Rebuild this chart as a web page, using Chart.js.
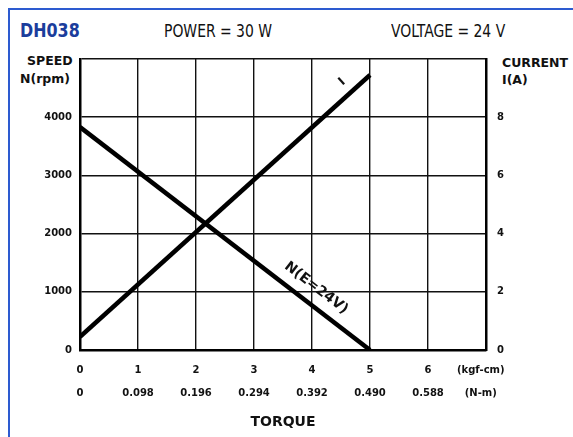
<!DOCTYPE html>
<html>
<head>
<meta charset="utf-8">
<script src="https://cdn.jsdelivr.net/npm/chart.js@4"></script>
<style>
  body { margin:0; background:#fff; width:573px; height:437px; overflow:hidden; position:relative; font-family:"DejaVu Sans", sans-serif; }
  .frame { position:absolute; left:8px; top:8px; width:600px; height:460px; border-left:2px solid #2d5bd0; border-top:2px solid #2d5bd0; }
  .txt { position:absolute; white-space:nowrap; color:#111; }
  .head { font-family:"Liberation Sans Narrow","DejaVu Sans Condensed",sans-serif; font-size:18px; transform:scaleX(0.86); transform-origin:left top; }
  .axt { font-weight:bold; font-size:12.5px; line-height:18px; }
  #chartBox { position:absolute; left:0; top:0; width:573px; height:437px; }
</style>
</head>
<body>
<div class="frame"></div>
<div class="txt head" style="left:20px;top:19px;color:#1b3d9c;font-weight:bold;font-size:19px;transform:scaleX(0.93);">DH038</div>
<div class="txt head" style="left:164px;top:20px;">POWER = 30 W</div>
<div class="txt head" style="left:391px;top:20px;">VOLTAGE = 24 V</div>
<div class="txt axt" style="left:27px;top:52px;">SPEED</div>
<div class="txt axt" style="left:20px;top:70px;">N(rpm)</div>
<div class="txt axt" style="left:502px;top:54px;">CURRENT</div>
<div class="txt axt" style="left:502px;top:71px;">I(A)</div>
<div id="chartBox"><canvas id="motorChart" width="573" height="437"></canvas></div>
<script>
// torque points (kgf-cm) and readings at those loads
const torque = [0, 5];
const speed = [3830, 0];
const current = [0.45, 9.45];

const torqueTicks = [0, 1, 2, 3, 4, 5, 6];
const torqueNm = ['0', '0.098', '0.196', '0.294', '0.392', '0.490', '0.588'];
const speedTicks = [0, 1000, 2000, 3000, 4000];
const currentTicks = [0, 2, 4, 6, 8];

const tickFont = { family: 'DejaVu Sans', weight: 'bold', size: 10 };

// writes a label along a curve, angled like the line under it
const lineLabels = {
  id: 'lineLabels',
  afterDatasetsDraw(chart) {
    const ctx = chart.ctx;
    const x = chart.scales.x;
    function put(text, axis, pos, vals, dx, dy, size) {
      const sc = chart.scales[axis];
      const x0 = x.getPixelForValue(torque[0]), y0 = sc.getPixelForValue(vals[0]);
      const x1 = x.getPixelForValue(torque[1]), y1 = sc.getPixelForValue(vals[1]);
      const ang = Math.atan2(y1 - y0, x1 - x0);
      const px = x0 + (x1 - x0) * pos + dx, py = y0 + (y1 - y0) * pos + dy;
      ctx.save();
      ctx.translate(px, py);
      ctx.rotate(ang);
      ctx.font = 'bold ' + size + 'px "DejaVu Sans"';
      ctx.fillStyle = '#111';
      ctx.textAlign = 'center';
      ctx.textBaseline = 'middle';
      ctx.fillText(text, 0, 0);
      ctx.restore();
    }
    put('I', 'y1', 0.935, current, -9, -10, 12);
    put('N(E=24V)', 'y', 0.78, speed, 10, -13, 14);
  }
};

new Chart(document.getElementById('motorChart'), {
  type: 'scatter',
  data: {
    datasets: [
      {
        label: 'N',
        data: torque.map((t, i) => ({ x: t, y: speed[i] })),
        yAxisID: 'y',
        showLine: true,
        borderColor: '#000',
        borderWidth: 4.5,
        pointRadius: 0
      },
      {
        label: 'I',
        data: torque.map((t, i) => ({ x: t, y: current[i] })),
        yAxisID: 'y1',
        showLine: true,
        borderColor: '#000',
        borderWidth: 4.5,
        pointRadius: 0
      }
    ]
  },
  options: {
    responsive: false,
    animation: false,
    layout: { padding: { top: 59, left: 0, right: 0, bottom: 0 } },
    plugins: { legend: { display: false }, tooltip: { enabled: false } },
    scales: {
      x: {
        type: 'linear', min: 0, max: 7,
        afterFit(s) { s.height = 87; },
        afterBuildTicks(s) { s.ticks = torqueTicks.concat([7]).map(v => ({ value: v })); },
        grid: { color: '#111', lineWidth: 1.4, drawTicks: false },
        border: { color: '#000', width: 2.5 },
        ticks: {
          padding: 9, color: '#111', font: { ...tickFont, lineHeight: 2.3 }, maxRotation: 0, autoSkip: false,
          callback(v) {
            if (v === 7) return ['(kgf-cm)   ', '(N-m)   '];
            return [String(v), torqueNm[torqueTicks.indexOf(v)]];
          }
        },
        title: { display: true, text: 'TORQUE', color: '#111', font: { family: 'DejaVu Sans', weight: 'bold', size: 14 }, padding: { top: 0, bottom: 6 } }
      },
      y: {
        position: 'left', min: 0, max: 5000,
        afterFit(s) { s.width = 80; },
        afterBuildTicks(s) { s.ticks = speedTicks.concat([5000]).map(v => ({ value: v })); },
        grid: { color: '#111', lineWidth: 1.4, drawTicks: false },
        border: { color: '#000', width: 2.5 },
        ticks: { padding: 8, color: '#111', font: tickFont, autoSkip: false, callback: v => v === 5000 ? '' : String(v) }
      },
      y1: {
        position: 'right', min: 0, max: 10,
        afterFit(s) { s.width = 87; },
        afterBuildTicks(s) { s.ticks = currentTicks.concat([10]).map(v => ({ value: v })); },
        grid: { drawOnChartArea: false, drawTicks: false },
        border: { color: '#000', width: 2.5 },
        ticks: { padding: 11, color: '#111', font: tickFont, autoSkip: false, callback: v => v === 10 ? '' : String(v) }
      }
    }
  },
  plugins: [lineLabels]
});
</script>
</body>
</html>
